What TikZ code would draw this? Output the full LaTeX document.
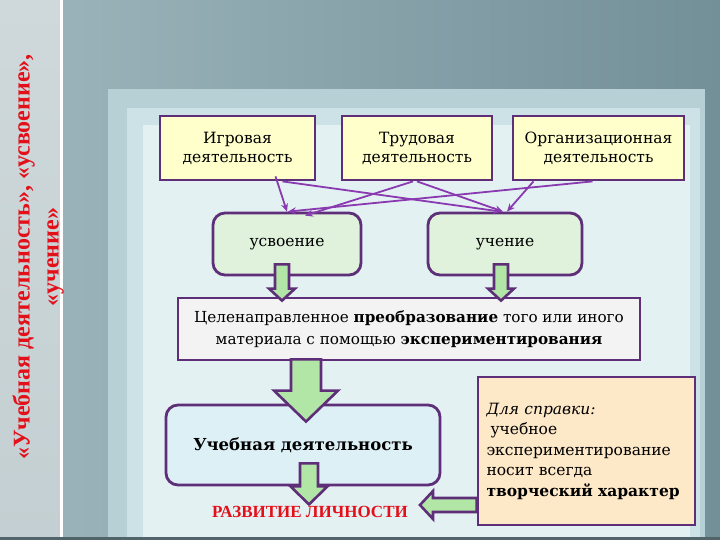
\documentclass[tikz,border=0pt]{standalone}
\usepackage{fontspec}
\setmainfont{DejaVu Serif}
\newfontfamily\titlefont{Liberation Serif}
\usetikzlibrary{arrows.meta,calc}
\definecolor{frame}{HTML}{5E2F78}
\definecolor{linkc}{HTML}{8A3AB0}
\definecolor{actfill}{HTML}{FFFFCC}
\definecolor{resfill}{HTML}{E0F2DC}
\definecolor{goalfill}{HTML}{F3F3F3}
\definecolor{studfill}{HTML}{DCF0F5}
\definecolor{notefill}{HTML}{FDE8C8}
\definecolor{arrowc}{HTML}{B2E6A6}
\definecolor{titlered}{HTML}{E3101A}
\definecolor{bgleft}{HTML}{9DB6BC}
\definecolor{bgright}{HTML}{738F98}
\definecolor{strip}{HTML}{C3CFD2}
\definecolor{panelA}{HTML}{B6D0D6}
\definecolor{panelB}{HTML}{CDE2E6}
\definecolor{panelC}{HTML}{E4F1F3}

% block arrow pointing down: top, tip, shaft half, head half, head length
\newcommand{\downblock}[5]{%
  \filldraw[blockarrow] ($(#1)+(-#3,0)$) -- ($(#1)+(#3,0)$) -- ($(#2)+(#3,-#5)$)
    -- ($(#2)+(#4,-#5)$) -- (#2) -- ($(#2)+(-#4,-#5)$) -- ($(#2)+(-#3,-#5)$) -- cycle;}

\begin{document}
\begin{tikzpicture}[x=1pt,y=-1pt,font=\fontsize{15.5}{19}\selectfont,
  sqbox/.style={draw=frame,line width=2.8pt,inner sep=0pt,align=center},
  rndbox/.style={sqbox,rounded corners=12pt},
  link/.style={draw=linkc,line width=1.8pt,-{Stealth[length=8pt,width=7pt]}},
  blockarrow/.style={draw=frame,line width=2.6pt,fill=arrowc,line join=miter}]
  \useasboundingbox (0,0) rectangle (720,540);

  % background panels
  \shade[left color=bgleft,right color=bgright] (0,0) rectangle (720,540);
  \shade[top color=strip!80!white,bottom color=strip] (0,0) rectangle (60,540);
  \fill[white] (60,0) rectangle (62.5,540);
  \fill[panelA] (108,89) rectangle (705,540);
  \fill[panelB] (127,108) rectangle (700,540);
  \fill[panelC] (143,125) rectangle (690,540);
  \fill[bgright!70!black] (0,537) rectangle (720,540);

  \node[rotate=90,text=titlered,font=\titlefont\bfseries\fontsize{24}{29}\selectfont,align=center]
    (title) at (38,257) {«Учебная деятельность», «усвоение»,\\«учение»};

  % kinds of activity
  \node[sqbox,fill=actfill,minimum width=155pt,minimum height=64pt] (igr) at (237.5,148) {Игровая\\деятельность};
  \node[sqbox,fill=actfill,minimum width=150pt,minimum height=64pt] (trud) at (417,148) {Трудовая\\деятельность};
  \node[sqbox,fill=actfill,minimum width=171pt,minimum height=64pt] (org) at (598.5,148) {Организационная\\деятельность};

  \node[rndbox,fill=resfill,minimum width=148pt,minimum height=62pt] (usv) at (287,244) {усвоение};
  \node[rndbox,fill=resfill,minimum width=154pt,minimum height=62pt] (uch) at (505,244) {учение};

  \node[sqbox,fill=goalfill,minimum width=462pt,minimum height=62pt,font=\fontsize{15.2}{22}\selectfont] (goal) at (409,329)
    {Целенаправленное \textbf{преобразование} того или иного\\материала с помощью \textbf{экспериментирования}};

  \node[rndbox,fill=studfill,minimum width=274pt,minimum height=80pt,font=\bfseries\fontsize{16.5}{20}\selectfont] (ucheb) at (303,445) {Учебная деятельность};
  \node[text=titlered,font=\titlefont\bfseries\fontsize{17}{19}\selectfont,inner sep=0pt] (razv) at (310,512) {РАЗВИТИЕ ЛИЧНОСТИ};

  \node[sqbox,fill=notefill,minimum width=217pt,minimum height=148pt,text width=200pt,align=left,
    font=\fontsize{15.5}{20.5}\selectfont] (note) at (586.5,451)
    {\textit{Для справки:}\\\hspace{4pt}учебное\\экспериментирование\\носит всегда\\\textbf{творческий характер}};

  % crossing links
  \draw[link] ([xshift=38pt,yshift=5pt]igr.south) -- (usv.north);
  \draw[link] ([xshift=45pt]igr.south) -- ([xshift=-4pt]uch.north);
  \draw[link] ([xshift=-4pt]trud.south) -- ([xshift=18pt,yshift=-4pt]usv.north);
  \draw[link] (trud.south) -- ([xshift=-2pt]uch.north);
  \draw[link] ([xshift=-6pt]org.south) -- ([xshift=1pt]usv.north);
  \draw[link] ([xshift=-65pt]org.south) -- ([xshift=2pt]uch.north);

  % block arrows
  \coordinate (usvtop) at ([xshift=-5pt,yshift=12pt]usv.south);
  \coordinate (usvtip) at ($(usvtop |- goal.north)+(0,4)$);
  \downblock{usvtop}{usvtip}{7}{13}{12}
  \coordinate (uchtop) at ([xshift=-4pt,yshift=12pt]uch.south);
  \coordinate (uchtip) at ($(uchtop |- goal.north)+(0,4)$);
  \downblock{uchtop}{uchtip}{7}{13}{12}
  \coordinate (goaltop) at ($([xshift=3pt]ucheb.north |- goal.south)+(0,-2)$);
  \coordinate (goaltip) at ([xshift=3pt,yshift=-18pt]ucheb.north);
  \downblock{goaltop}{goaltip}{15}{32}{31}
  \coordinate (uchebtop) at ([xshift=6pt,yshift=23pt]ucheb.south);
  \coordinate (uchebtip) at ([xshift=6pt,yshift=-18pt]ucheb.south);
  \downblock{uchebtop}{uchebtip}{9}{18.5}{18}

  % arrow from the note
  \coordinate (ltip) at ([xshift=12pt,yshift=7pt]razv.east);
  \filldraw[blockarrow] (ltip) -- ++(13,-14) -- ++(0,7) -- ($(ltip -| note.west)+(0,-7)$)
    -- ($(ltip -| note.west)+(0,7)$) -- ($(ltip)+(13,7)$) -- ++(0,7) -- cycle;
\end{tikzpicture}
\end{document}
